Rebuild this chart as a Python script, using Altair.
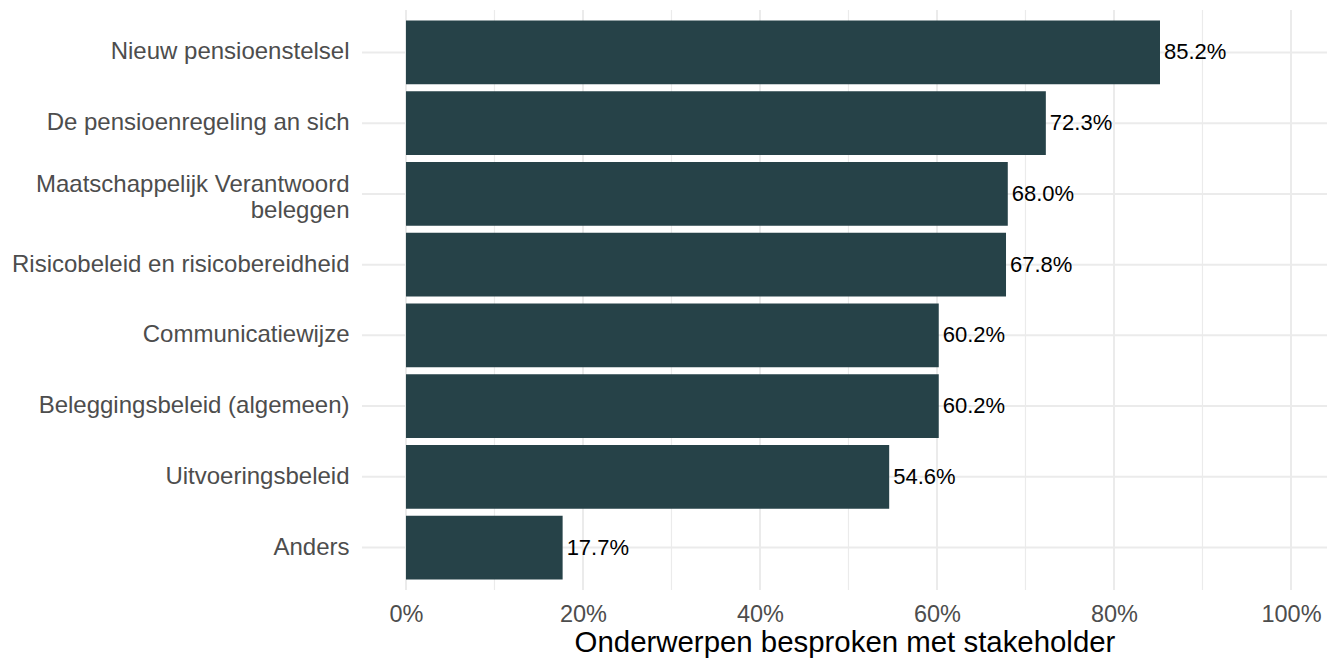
import altair as alt
import pandas as pd

categories = [
    "Nieuw pensioenstelsel",
    "De pensioenregeling an sich",
    "Maatschappelijk Verantwoord\u00a0\nbeleggen",
    "Risicobeleid en risicobereidheid",
    "Communicatiewijze",
    "Beleggingsbeleid (algemeen)",
    "Uitvoeringsbeleid",
    "Anders",
]
values = [0.852, 0.723, 0.680, 0.678, 0.602, 0.602, 0.546, 0.177]
major_ticks = [0.0, 0.2, 0.4, 0.6, 0.8, 1.0]
minor_ticks = [0.1, 0.3, 0.5, 0.7, 0.9]
x_title = "Onderwerpen besproken met stakeholder"

W = 965
H = 580
FONT = "Liberation Sans"
GRID = "#EBEBEB"

df = pd.DataFrame({"cat": categories, "val": values})
df["lab"] = [f"{v*100:.1f}%" for v in values]
major_df = pd.DataFrame({"t": major_ticks})
minor_df = pd.DataFrame({"t": minor_ticks})
cat_df = pd.DataFrame({"cat": categories})

xscale = alt.Scale(domain=[-0.0497, 1.0407], nice=False, zero=False)
yscale = alt.Scale(domain=categories, paddingInner=0.1, paddingOuter=0.15)

ygrid = alt.Chart(cat_df).mark_rule(color=GRID, strokeWidth=2).encode(
    y=alt.Y("cat:N", scale=yscale, sort=None,
            axis=alt.Axis(title=None, labelExpr="split(datum.label, '\\n')",
                          labelFont=FONT, labelFontSize=24, labelColor="#4D4D4D",
                          labelLineHeight=26, labelPadding=13, ticks=False,
                          labelOffset={"condition": {"test": "indexof(datum.value, 'Maatschappelijk') >= 0",
                                                     "value": -9},
                                       "value": 0},
                          domain=False, grid=False, labelLimit=500)),
    x=alt.value(0), x2=alt.value(W),
)

minor_grid = alt.Chart(minor_df).mark_rule(color=GRID, strokeWidth=1.2).encode(
    x=alt.X("t:Q", scale=xscale),
    y=alt.value(0), y2=alt.value(H),
)

major_grid = alt.Chart(major_df).mark_rule(color=GRID, strokeWidth=2).encode(
    x=alt.X("t:Q", scale=xscale,
            axis=alt.Axis(title=x_title, values=major_ticks, format=".0%",
                          labelFont=FONT, labelFontSize=23.5, labelColor="#4D4D4D",
                          labelPadding=12, ticks=False, domain=False, grid=False,
                          titleFont=FONT, titleFontSize=29.4, titleColor="#000000",
                          titleFontWeight="normal", titlePadding=3)),
    y=alt.value(0), y2=alt.value(H),
)

bars = alt.Chart(df).mark_bar(color="#264248").encode(
    y=alt.Y("cat:N", scale=yscale, sort=None),
    x=alt.X("val:Q", scale=xscale),
    x2=alt.datum(0),
)

text = alt.Chart(df).mark_text(align="left", baseline="middle", dx=4,
                               font=FONT, fontSize=22, color="#000000").encode(
    y=alt.Y("cat:N", scale=yscale, sort=None),
    x=alt.X("val:Q", scale=xscale),
    text="lab:N",
)

chart = alt.layer(ygrid, minor_grid, major_grid, bars, text).properties(
    width=W, height=H,
    autosize=alt.AutoSizeParams(type="none"),
    padding={"left": 362, "top": 10, "right": 0, "bottom": 72},
).configure(
    background="white",
    view=alt.ViewConfig(stroke="transparent", strokeWidth=0),
    axis=alt.AxisConfig(grid=False, domain=False, ticks=False),
)

chart.save("out.html", embed_options={"renderer": "svg", "actions": False})
